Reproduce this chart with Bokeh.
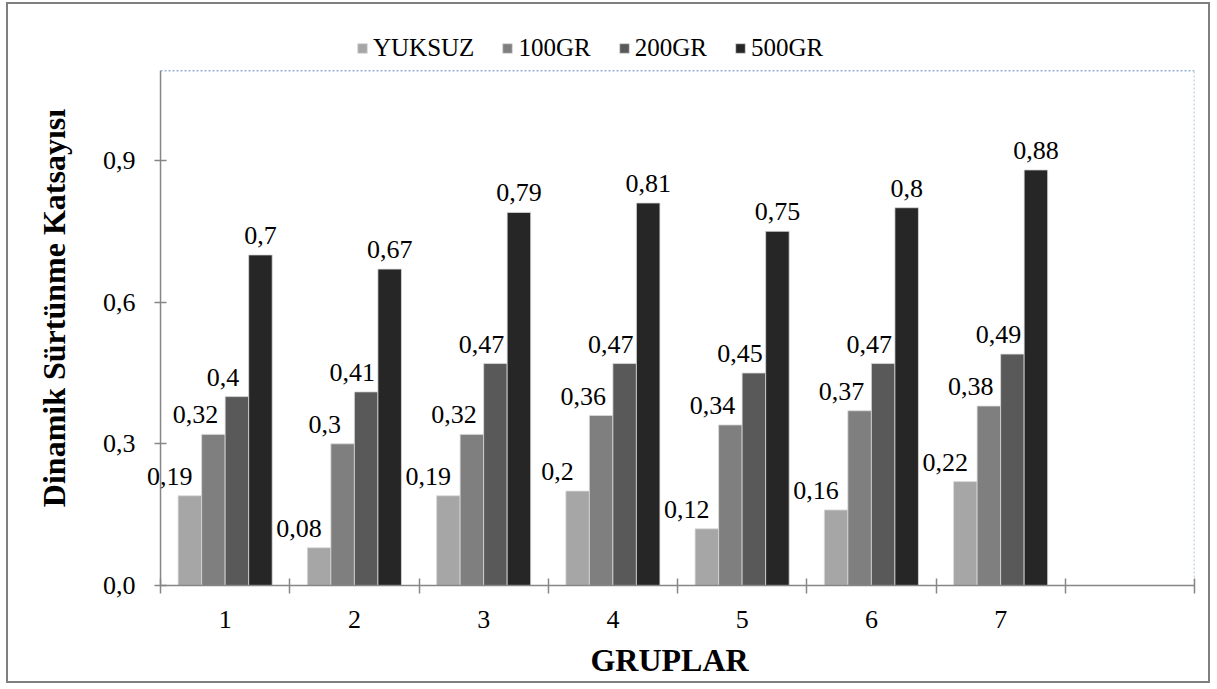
from bokeh.plotting import figure
from bokeh.models import (ColumnDataSource, FixedTicker, CustomJSTickFormatter,
                          Legend, LegendItem, LabelSet, Range1d)
from bokeh.core.properties import value
from bokeh.transform import dodge
from bokeh.embed import file_html
from bokeh.resources import INLINE

# Groups and series values
groups = ["1", "2", "3", "4", "5", "6", "7"]
series = ["YUKSUZ", "100GR", "200GR", "500GR"]
yuksuz = [0.19, 0.08, 0.19, 0.20, 0.12, 0.16, 0.22]
gr100 = [0.32, 0.30, 0.32, 0.36, 0.34, 0.37, 0.38]
gr200 = [0.40, 0.41, 0.47, 0.47, 0.45, 0.47, 0.49]
gr500 = [0.70, 0.67, 0.79, 0.81, 0.75, 0.80, 0.88]
y_ticks = [0.0, 0.3, 0.6, 0.9]
y_max = 1.09            # top of the value axis

colors = ["#a6a6a6", "#7f7f7f", "#595959", "#262626"]
label_shift = [-20, -18, -14, 0]
SERIF = "Liberation Serif"
AXIS_GRAY = "#868686"

n_slots = len(groups) + 1          # one empty category slot at the right
bar_w = 0.182
x_pad = 0.124                      # room left of the value axis for labels
pad_px = 16                        # the same room in pixels

data = {"x": [i + 0.5 for i in range(len(groups))]}
for name, vals in zip(series, [yuksuz, gr100, gr200, gr500]):
    data[name] = vals
    data[name + "_txt"] = [("%g" % v).replace(".", ",") for v in vals]
src = ColumnDataSource(data)

# the frame reaches above the value axis so the legend has room at the top
p = figure(width=1204, height=681, output_backend="svg", toolbar_location=None,
           x_range=Range1d(-x_pad, n_slots), y_range=Range1d(0, 1.1753),
           min_border_left=136, min_border_right=18,
           min_border_top=26, min_border_bottom=100,
           background_fill_color="white", border_fill_color="white")
# chart border drawn around the whole figure
p.styles = {"border": "2.5px solid #7f7f7f", "margin-left": "6px",
            "margin-top": "2px"}
p.grid.visible = False
p.outline_line_color = None

# plot-area border: dotted top and right edges, solid value-axis line
p.segment(x0=[0, n_slots], y0=[y_max, 0], x1=[n_slots, n_slots], y1=[y_max, y_max],
          line_color="#95b3d7", line_dash="2 2", line_width=1.5)
p.segment(x0=[0], y0=[0], x1=[0], y1=[y_max], line_color=AXIS_GRAY, line_width=1.5)

items = []
for k, name in enumerate(series):
    off = (k - 1.5) * bar_w
    r = p.vbar(x=dodge("x", off), top=name, width=bar_w, bottom=0, source=src,
               fill_color=colors[k], line_color="#d9d9d9", line_width=0.8)
    items.append(LegendItem(label=name, renderers=[r]))
    lbl = LabelSet(x=dodge("x", off), y=name, text=name + "_txt", source=src,
                   text_align="center", text_baseline="alphabetic",
                   x_offset=label_shift[k], y_offset=11,
                   text_font=value(SERIF), text_font_size="26px",
                   text_color="black")
    p.add_layout(lbl)

# X axis: labels at category centres, tick marks at category boundaries
xax = p.xaxis[0]
xax.bounds = (0, n_slots)
xax.ticker = FixedTicker(ticks=[i + 0.5 for i in range(len(groups))],
                         minor_ticks=list(range(n_slots + 1)))
xax.formatter = CustomJSTickFormatter(code="return (tick + 0.5).toFixed(0);")
xax.major_tick_in = 0
xax.major_tick_out = 0
xax.minor_tick_in = 7
xax.minor_tick_out = 8
xax.minor_tick_line_color = AXIS_GRAY
xax.minor_tick_line_width = 1.5
xax.axis_line_color = AXIS_GRAY
xax.axis_line_width = 1.5
xax.major_label_standoff = 17
xax.major_label_text_font = SERIF
xax.major_label_text_font_size = "26px"
xax.major_label_text_color = "black"
xax.axis_label = "GRUPLAR"
xax.axis_label_text_font = SERIF
xax.axis_label_text_font_size = "32px"
xax.axis_label_text_font_style = "bold"
xax.axis_label_text_color = "black"
xax.axis_label_standoff = 11

# Y axis sits at the frame edge; its ticks are pushed in to cross the value-axis line
yax = p.yaxis[0]
yax.ticker = FixedTicker(ticks=y_ticks, minor_ticks=[])
yax.formatter = CustomJSTickFormatter(code="return tick.toFixed(1).replace('.', ',');")
yax.major_tick_in = 6 + pad_px
yax.major_tick_out = 6 - pad_px
yax.major_tick_line_color = AXIS_GRAY
yax.major_tick_line_width = 1.5
yax.axis_line_color = None
yax.major_label_standoff = 9
yax.major_label_text_font = SERIF
yax.major_label_text_font_size = "26px"
yax.major_label_text_color = "black"
yax.axis_label = "Dinamik Sürtünme Katsayısı"
yax.axis_label_text_font = SERIF
yax.axis_label_text_font_size = "32px"
yax.axis_label_text_font_style = "bold"
yax.axis_label_text_color = "black"
yax.axis_label_standoff = 28

legend = Legend(items=items, orientation="horizontal", location=(212, 523),
                padding=0, margin=0, spacing=27, label_standoff=5,
                glyph_width=12, glyph_height=12,
                label_text_font=SERIF, label_text_font_size="25px",
                label_text_color="black", border_line_color=None,
                background_fill_alpha=0)
p.add_layout(legend, "center")

open("out.html", "w").write(file_html(p, INLINE))
